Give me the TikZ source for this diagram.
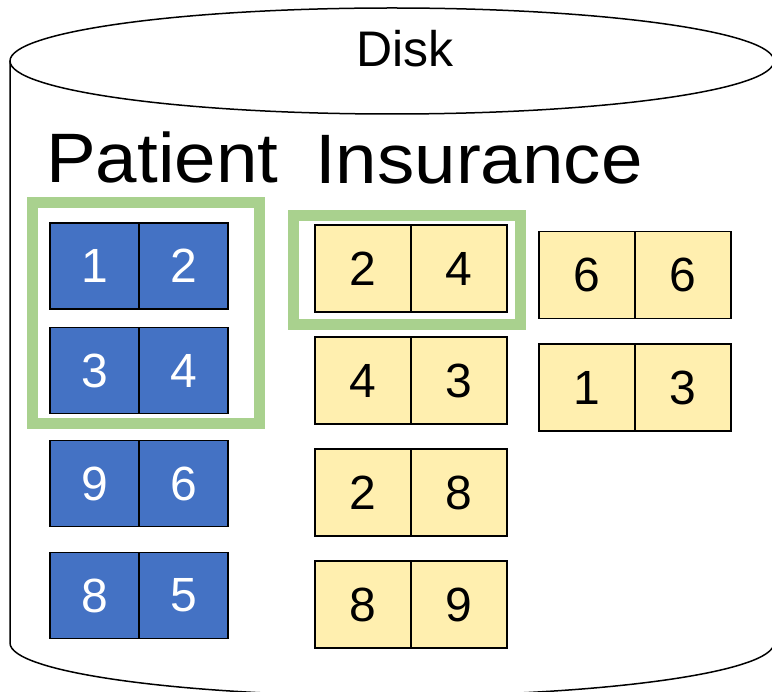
\documentclass[tikz,border=0pt]{standalone}
\usepackage{fontspec}
\setmainfont{Liberation Sans}
\setsansfont{Liberation Sans}
\newfontfamily\headfont[FakeStretch=1.065]{Liberation Sans}
\usepackage{tikz}
\usetikzlibrary{positioning, calc}

\definecolor{patblue}{HTML}{4472C4}
\definecolor{insyellow}{HTML}{FFEFAF}
\definecolor{scangreen}{HTML}{A9D18E}

\begin{document}
\begin{tikzpicture}[x=1pt, y=-1pt,
  pcell/.style={draw=black, line width=1.8pt, fill=patblue, text=white,
    minimum width=89pt, minimum height=86pt, inner sep=0pt, outer sep=0pt,
    font=\fontsize{48}{48}\selectfont},
  icell/.style={draw=black, line width=1.8pt, fill=insyellow,
    minimum width=96pt, minimum height=87pt, inner sep=0pt, outer sep=0pt,
    font=\fontsize{48}{48}\selectfont},
  scanbox/.style={draw=scangreen, line width=11pt}]

  \useasboundingbox (0,0) rectangle (772,692);
  \clip (0,0) rectangle (772,692);

  % --- Disk cylinder (top lid, walls, bottom rim)
  \draw[line width=1.5pt] (392,61) ellipse [x radius=382, y radius=53];
  \draw[line width=1.5pt] (10,61) -- (10,643)
    arc[start angle=180, end angle=0, x radius=382, y radius=53] -- (774,61);

  % --- Labels
  \node[anchor=base, inner sep=0pt, font=\fontsize{50}{50}\selectfont] (disk) at (405,67) {Disk};
  \node[anchor=base west, inner sep=0pt, font=\headfont\fontsize{70}{70}\selectfont] (patient) at (46,183) {Patient};
  \node[anchor=base west, inner sep=0pt, font=\headfont\fontsize{70}{70}\selectfont] (insurance) at (315,184) {Insurance};

  % --- Patient pages
  \foreach \l/\r/\y [count=\i] in {1/2/266, 3/4/370.5, 9/6/483.5, 8/5/595.5} {
    \node[pcell] (p\i a) at (94.5,\y) {\l};
    \node[pcell, right=0pt of p\i a] (p\i b) {\r};
  }

  % --- Insurance pages, two columns
  \foreach \l/\r/\y [count=\i] in {2/4/268.5, 4/3/380.5, 2/8/492.5, 8/9/604.5} {
    \node[icell] (i\i a) at (363,\y) {\l};
    \node[icell, right=0pt of i\i a] (i\i b) {\r};
  }
  \foreach \l/\r/\y [count=\i from 5] in {6/6/275, 1/3/387.5} {
    \node[icell] (i\i a) at (587,\y) {\l};
    \node[icell, right=0pt of i\i a] (i\i b) {\r};
  }

  % --- Pages currently held in memory
  \draw[scanbox] (32.5,203) rectangle (259.5,424);
  \draw[scanbox] (293.5,215.5) rectangle (520.5,324.5);
\end{tikzpicture}
\end{document}
